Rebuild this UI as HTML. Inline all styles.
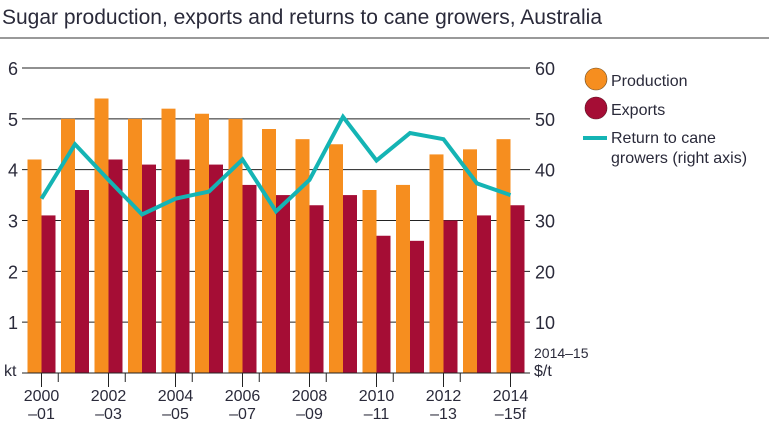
<!DOCTYPE html>
<html><head><meta charset="utf-8"><style>
body{margin:0;background:#fff;font-family:"Liberation Sans",sans-serif;}
svg text{font-family:"Liberation Sans",sans-serif;fill:#2a2a3a;}
</style></head><body>
<svg width="769" height="426" viewBox="0 0 769 426">
<text x="2" y="24" font-size="21">Sugar production, exports and returns to cane growers, Australia</text>
<line x1="0" y1="38" x2="769" y2="38" stroke="#333" stroke-width="1"/>
<g id="grid"></g><g id="bars"></g><g id="line"></g><g id="axes"></g>
<g>
<circle cx="596" cy="79" r="11" fill="#f68e1f" stroke="#6a4a20" stroke-width="0.6"/>
<text x="611" y="86" font-size="16">Production</text>
<circle cx="596" cy="108" r="11" fill="#a50d35" stroke="#5a1020" stroke-width="0.6"/>
<text x="611" y="115" font-size="16">Exports</text>
<line x1="583" y1="138" x2="607" y2="138" stroke="#14b4b4" stroke-width="4"/>
<text x="611" y="143" font-size="16">Return to cane</text>
<text x="611" y="163" font-size="16">growers (right axis)</text>
</g>
</svg>
<script>
const categories=["2000-01","2001-02","2002-03","2003-04","2004-05","2005-06","2006-07","2007-08","2008-09","2009-10","2010-11","2011-12","2012-13","2013-14","2014-15"];
const production=[4.2,5.0,5.4,5.0,5.2,5.1,5.0,4.8,4.6,4.5,3.6,3.7,4.3,4.4,4.6];
const exportsData=[3.1,3.6,4.2,4.1,4.2,4.1,3.7,3.5,3.3,3.5,2.7,2.6,3.0,3.1,3.3];
const returns=[34.3,45,38,31.2,34.3,35.7,42,31.8,38,50.4,41.8,47.2,46,37.3,35];
const leftTicks=[1,2,3,4,5,6];
const rightTicks=["10","20","30","40","50","60"];
const xLabels=[["2000","–01"],["2002","–03"],["2004","–05"],["2006","–07"],["2008","–09"],["2010","–11"],["2012","–13"],["2014","–15f"]];
const NS="http://www.w3.org/2000/svg";
const y0=373,yTop=68,x0=22,x1=530;
const yL=v=>y0-(y0-yTop)*v/6;
const yR=v=>y0-(y0-yTop)*v/60;
const xC=i=>41.5+i*33.5;
const bw=14;
function mk(t,a,p){const e=document.createElementNS(NS,t);for(const k in a)e.setAttribute(k,a[k]);document.getElementById(p).appendChild(e);return e;}
leftTicks.forEach((t,i)=>{
 const l=mk("line",{x1:x0,x2:x1,y1:yL(t),y2:yL(t),stroke:"#222","stroke-width":1},"grid");
 
 
 const a=mk("text",{x:13,y:yL(t)+7,"font-size":18,"text-anchor":"middle"},"axes");a.textContent=t;
 
 
 const b=mk("text",{x:535,y:yL(t)+7,"font-size":18},"axes");b.textContent=rightTicks[i];
 
 
});
categories.forEach((c,i)=>{
 const p=mk("rect",{x:xC(i)-bw,y:yL(production[i]),width:bw,height:y0-yL(production[i]),fill:"#f68e1f"},"bars");
 
 
 const e=mk("rect",{x:xC(i),y:yL(exportsData[i]),width:bw,height:y0-yL(exportsData[i]),fill:"#a50d35"},"bars");
 
 
 const tx=i%2?xC(i)-16.75:xC(i);
 const tk=mk("line",{x1:tx,x2:tx,y1:y0,y2:y0+(i%2?9:14),stroke:"#222","stroke-width":1},"axes");
 
 
});
const ax=mk("line",{x1:x0,x2:x1,y1:y0,y2:y0,stroke:"#222","stroke-width":1},"axes");


const pl=mk("polyline",{points:returns.map((v,i)=>xC(i)+","+yR(v)).join(" "),fill:"none",stroke:"#14b4b4","stroke-width":4,"stroke-linejoin":"miter"},"line");


xLabels.forEach((l,j)=>{
 const x=xC(j*2);
 const t1=mk("text",{x:x,y:401,"font-size":16,"text-anchor":"middle"},"axes");t1.textContent=l[0];
 
 
 const t2=mk("text",{x:x,y:419,"font-size":16,"text-anchor":"middle"},"axes");t2.textContent=l[1];
 
 
});
const u1=mk("text",{x:4,y:376,"font-size":16},"axes");u1.textContent="kt";


const u2=mk("text",{x:534,y:358,"font-size":14},"axes");u2.textContent="2014–15";


const u3=mk("text",{x:534,y:376,"font-size":16},"axes");u3.textContent="$/t";


</script>
</body></html>
